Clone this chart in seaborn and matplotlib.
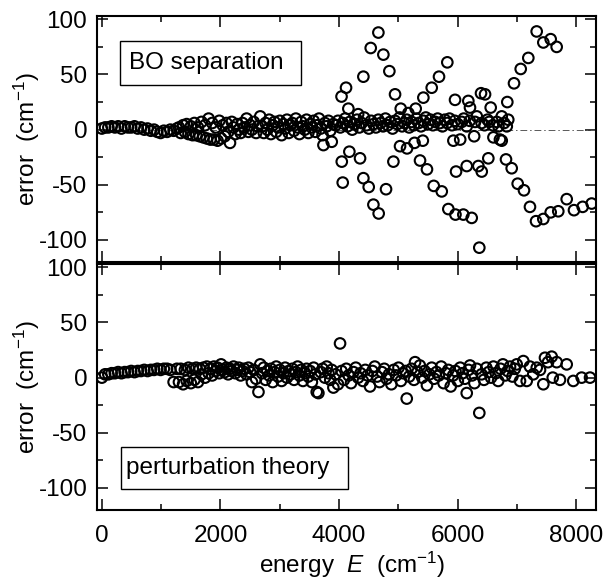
import seaborn as sns
import matplotlib.pyplot as plt
from matplotlib.patches import Rectangle
from matplotlib.ticker import MultipleLocator

# ---- BO separation: near-zero band ----
energy_bo = [
    0, 55, 110, 165, 220, 275, 330, 385, 440, 495,
    550, 605, 660, 715, 770, 825, 880, 935, 990, 1045,
    1100, 1155, 1210, 1265, 1300, 1330, 1370, 1400, 1430, 1460,
    1500, 1530, 1560, 1590, 1620, 1650, 1680, 1710, 1740, 1770,
    1800, 1830, 1860, 1890, 1920, 1950, 1980, 2010, 2040, 2070,
    2100, 2130, 2160, 2190, 2220, 2250, 2280, 2310, 2340, 2370,
    2400, 2440, 2470, 2500, 2530, 2560, 2600, 2630, 2670, 2700,
    2730, 2760, 2790, 2820, 2850, 2880, 2910, 2940, 2970, 3000,
    3030, 3060, 3090, 3120, 3150, 3180, 3210, 3240, 3270, 3300,
    3330, 3360, 3390, 3420, 3450, 3480, 3510, 3540, 3570, 3600,
    3630, 3660, 3690, 3720, 3735, 3760, 3790, 3820, 3850, 3875,
    3900, 3940, 3980, 4020, 4060, 4100, 4140, 4180, 4220, 4260,
    4300, 4340, 4380, 4420, 4460, 4500, 4540, 4580, 4620, 4660,
    4700, 4740, 4780, 4820, 4860, 4900, 4940, 4980, 5020, 5060,
    5100, 5140, 5180, 5220, 5260, 5300, 5340, 5380, 5420, 5460,
    5500, 5540, 5580, 5620, 5660, 5700, 5740, 5780, 5820, 5860,
    5900, 5925, 5950, 6000, 6040, 6065, 6100, 6150, 6200, 6275,
    6290, 6320, 6400, 6450, 6500, 6530, 6590, 6600, 6655, 6685,
    6710, 6740, 6780, 6825, 6850,
]
error_bo = [
    1, 2, 2, 3, 2, 3, 1, 3, 2, 2,
    3, 1, 2, 0, 1, -1, 0, -2, -3, -1,
    -2, 0, -1, 1, 2, -3, 4, -2, 5, -4,
    3, -5, 6, -5, 2, -6, 7, -7, 4, -8,
    10, -9, 6, -9, 2, -10, 8, -8, 4, -6,
    6, -2, -12, 7, 2, -4, 5, 0, -3, 6,
    2, 10, -2, 4, 0, 7, -3, 3, 12, 3,
    -3, 6, 0, 9, -4, 4, 7, -2, 2, 8,
    -5, 5, 1, 9, -3, 4, 6, -1, 10, 2,
    -4, 7, 3, 0, 9, -3, 5, 2, 8, -2,
    4, 10, 1, -5, -14, 6, 3, 8, -1, -11,
    5, 4, 8, 2, 6, 10, 3, 7, 0, 5,
    9, 2, 6, 11, 4, 1, 8, 5, 2, 9,
    6, 3, 10, 4, 7, 1, 8, 5, 11, 3,
    6, 9, 2, 7, 4, 10, 6, 3, 8, 11,
    5, 9, 4, 7, 10, 6, 3, 9, 6, 10,
    4, -10, 8, 5, -9, 7, 10, 3, 8, -6,
    7, 12, 6, 4, 9, 7, 4, -7, 7, 3,
    -9, -10, 6, 3, 9,
]

# ---- BO separation: diverging branches above 4000 cm-1 ----
branch_energy = [
    4040, 4060, 4116, 4155, 4172, 4320, 4352, 4408, 4408, 4498,
    4532, 4577, 4661, 4666, 4745, 4790, 4846, 4914, 4942, 5026,
    5038, 5144, 5166, 5270, 5290, 5363, 5410, 5419, 5480, 5560,
    5594, 5683, 5729, 5823, 5840, 5953, 5960, 5970, 6093, 6150,
    6177, 6205, 6234, 6346, 6362, 6391, 6403, 6459, 6514, 6554,
    6740, 6812, 6834, 6908, 6947, 7009, 7060, 7115, 7188, 7216,
    7318, 7329, 7441, 7441, 7565, 7565, 7666, 7693, 7835, 7958,
    8104, 8256, 4044,
]
branch_error = [
    30, -48, 38, 19, -20, 14, -26, 48, -44, -52,
    74, -68, 88, -76, 68, -54, 53, -29, 32, -15,
    19, -17, 15, -12, 19, -28, -10, 29, -36, 38,
    -51, 48, -56, 61, -72, 27, -77, -38, -77, -33,
    26, 20, -80, -33, -107, 33, -38, 32, -26, 20,
    12, -27, 25, -35, 42, -49, 55, -55, 65, -70,
    -83, 89, 79, -81, 82, -75, 75, -74, -63, -73,
    -70, -67, -29,
]

# ---- perturbation theory ----
energy_pt = [
    0, 55, 110, 165, 220, 275, 330, 385, 440, 495,
    550, 605, 660, 715, 770, 825, 880, 935, 990, 1045,
    1100, 1155, 1210, 1265, 1300, 1330, 1370, 1400, 1430, 1460,
    1500, 1530, 1560, 1590, 1620, 1650, 1680, 1710, 1740, 1770,
    1800, 1830, 1860, 1890, 1920, 1950, 1980, 2010, 2040, 2070,
    2100, 2130, 2160, 2190, 2220, 2250, 2280, 2310, 2340, 2370,
    2400, 2440, 2470, 2500, 2530, 2560, 2600, 2640, 2670, 2700,
    2730, 2760, 2790, 2820, 2850, 2880, 2910, 2940, 2970, 3000,
    3030, 3060, 3090, 3120, 3150, 3180, 3210, 3240, 3270, 3300,
    3330, 3360, 3390, 3420, 3450, 3480, 3510, 3540, 3570, 3600,
    3622, 3650, 3690, 3720, 3760, 3790, 3820, 3850, 3875, 3903,
    3940, 3980, 4015, 4040, 4080, 4120, 4160, 4200, 4240, 4280,
    4320, 4360, 4400, 4440, 4480, 4520, 4560, 4600, 4640, 4680,
    4720, 4760, 4800, 4840, 4880, 4920, 4960, 5000, 5040, 5080,
    5120, 5139, 5180, 5220, 5260, 5279, 5320, 5360, 5400, 5440,
    5480, 5520, 5560, 5600, 5640, 5680, 5720, 5760, 5800, 5840,
    5880, 5920, 5960, 6000, 6040, 6080, 6120, 6150, 6180, 6205,
    6240, 6280, 6320, 6362, 6400, 6440, 6480, 6520, 6560, 6600,
    6640, 6680, 6720, 6760, 6800, 6840, 6880, 6920, 6960, 6992,
    7048, 7104, 7161, 7216, 7272, 7330, 7385, 7441, 7469, 7520,
    7582, 7600, 7666, 7722, 7835, 7946, 8087, 8228,
]
error_pt = [
    0, 3, 3, 4, 4, 5, 4, 5, 5, 6,
    5, 6, 6, 7, 6, 7, 7, 8, 7, 8,
    8, 7, -4, 8, -4, 8, -6, 7, -3, 9,
    -5, 8, -2, 9, -4, 8, 3, 9, 0, 10,
    4, 8, 2, 10, 6, 9, 4, 12, 7, 5,
    9, 3, 8, 6, 10, 4, 7, 9, 2, 6,
    8, 3, 9, 5, -4, 7, -1, -13, 12, 4,
    9, -2, 6, 2, 8, -4, 5, 10, 1, 7,
    -3, 4, 9, 0, 6, 3, 8, -2, 5, 10,
    2, 7, -3, 4, 8, 1, 6, -4, 9, 3,
    -13, -14, 5, 8, 0, 10, 4, -2, 7, -9,
    3, -6, 31, 6, -2, 8, 2, -5, 5, 9,
    0, 4, -3, 7, 2, -8, 6, 10, 1, -4,
    5, 8, -1, 3, -6, 7, 2, 9, -3, 4,
    6, -19, 1, 8, -2, 14, 5, 11, 0, 6,
    -7, 3, 9, -1, 5, 2, 10, -5, 4, 7,
    -8, 2, 6, -3, 9, 4, -1, -14, 7, 11,
    2, -5, 8, -32, 3, -2, 9, 5, 0, 10,
    4, -3, 8, 12, 2, 6, 10, 1, 8, 12,
    -3, 15, -3, 10, 3, 9, 7, -6, 18, 14,
    19, 0, 14, -2, 12, -3, 0, 0,
]

sns.set_theme(style="ticks")
plt.rcParams["font.family"] = ["Liberation Sans", "DejaVu Sans"]
plt.rcParams["mathtext.fontset"] = "custom"
plt.rcParams["mathtext.rm"] = "Liberation Sans"
plt.rcParams["mathtext.it"] = "Liberation Sans:italic"
plt.rcParams["axes.unicode_minus"] = False
plt.rcParams["text.color"] = "black"
plt.rcParams["axes.labelcolor"] = "black"
FS = 17.5

fig = plt.figure(figsize=(6.03, 5.82), dpi=100)
ax_top = fig.add_axes([0.161, 0.5498, 0.8275, 0.4227])
ax_bot = fig.add_axes([0.161, 0.1237, 0.8275, 0.4227])


def style_axis(ax):
    ax.set_xlim(-80, 8330)
    ax.set_ylim(-120, 103)
    ax.xaxis.set_major_locator(MultipleLocator(2000))
    ax.xaxis.set_minor_locator(MultipleLocator(1000))
    ax.yaxis.set_major_locator(MultipleLocator(50))
    ax.yaxis.set_minor_locator(MultipleLocator(25))
    ax.tick_params(which="both", direction="in", top=True, right=True,
                   width=1.1, color="black", labelsize=FS, labelcolor="black")
    ax.tick_params(which="major", length=8)
    ax.tick_params(which="minor", length=4.5)
    ax.tick_params(axis="x", pad=11)
    ax.tick_params(axis="y", pad=7)
    for sp in ax.spines.values():
        sp.set_color("black")
        sp.set_linewidth(1.5)
    ax.set_ylabel("error  (cm$^{-1}$)", fontsize=FS, color="black")
    ax.yaxis.set_label_coords(-0.11, 0.5)


def circles(ax, x, y):
    sns.scatterplot(x=x, y=y, ax=ax, marker="o", s=58, color="black",
                    facecolor="none", edgecolor="black", linewidth=1.5, zorder=3)


# top panel
ax_top.axhline(0, color="0.35", lw=0.7, ls=(0, (7, 3, 1.5, 3)), zorder=1)
circles(ax_top, energy_bo, error_bo)
circles(ax_top, branch_energy, branch_error)
style_axis(ax_top)
ax_top.tick_params(axis="x", labelbottom=False)
ax_top.add_patch(Rectangle((0.046, 0.7195), 0.363, 0.1785, transform=ax_top.transAxes,
                           fill=False, lw=1.0, ec="black", zorder=4))
ax_top.text(0.064, 0.809, "BO separation", transform=ax_top.transAxes,
            ha="left", va="center", fontsize=FS, zorder=5)

# bottom panel
circles(ax_bot, energy_pt, error_pt)
style_axis(ax_bot)
ax_bot.add_patch(Rectangle((0.048, 0.0854), 0.455, 0.1706, transform=ax_bot.transAxes,
                           fill=False, lw=1.0, ec="black", zorder=4))
ax_bot.text(0.058, 0.171, "perturbation theory", transform=ax_bot.transAxes,
            ha="left", va="center", fontsize=FS, zorder=5)
ax_bot.set_xlabel("energy  $E$  (cm$^{-1}$)", fontsize=FS, color="black")
ax_bot.xaxis.set_label_coords(0.511, -0.16)

fig.savefig("out.png", dpi=100)
